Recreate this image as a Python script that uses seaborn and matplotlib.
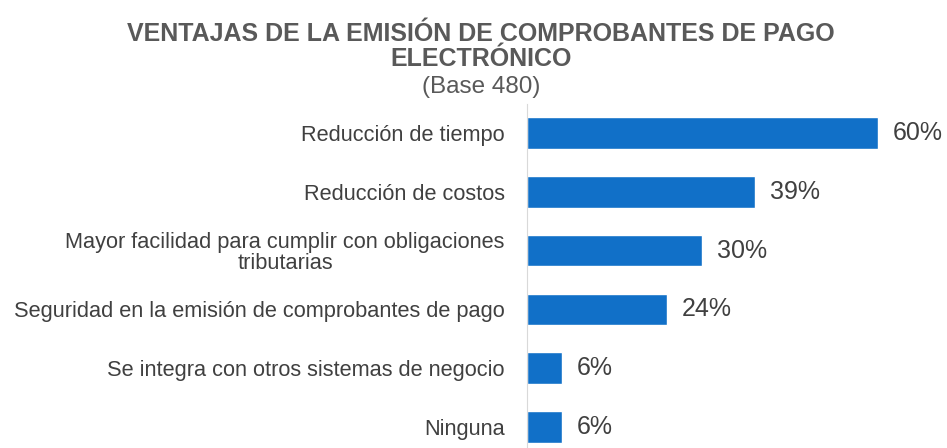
import matplotlib
matplotlib.use("Agg")
import matplotlib.pyplot as plt
import seaborn as sns
import pandas as pd

# Data
categorias = [
    "Reducción de tiempo",
    "Reducción de costos",
    "Mayor facilidad para cumplir con obligaciones\ntributarias",
    "Seguridad en la emisión de comprobantes de pago",
    "Se integra con otros sistemas de negocio",
    "Ninguna",
]
porcentajes = [60, 39, 30, 24, 6, 6]

df = pd.DataFrame({"categoria": categorias, "pct": porcentajes})

sns.set_style("white")
plt.rcParams["font.family"] = ["Liberation Sans", "DejaVu Sans"]

fig = plt.figure(figsize=(9.47, 4.48), dpi=100)
ax = fig.add_axes([0.5565, 0.0, 0.432, 0.7688])

sns.barplot(data=df, x="pct", y="categoria", color="#1170C8",
            width=0.54, saturation=1, ax=ax)

ax.set_xlim(0, 70)
ax.set_ylim(5.357, -0.5)
ax.set_xlabel("")
ax.set_ylabel("")
ax.set_xticks([])

for i, v in enumerate(porcentajes):
    ax.text(v + 2.5, i, f"{v}%", va="center", ha="left",
            fontsize=18, color="#404040")

ax.tick_params(axis="y", length=0, pad=16, labelsize=15.7, labelcolor="#404040")
for lbl in ax.get_yticklabels():
    lbl.set_multialignment("center")
    lbl.set_linespacing(1.0)

for s in ["top", "right", "bottom"]:
    ax.spines[s].set_visible(False)
ax.spines["left"].set_color("#D9D9D9")
ax.spines["left"].set_linewidth(0.8)

cx = 0.508
fig.text(cx, 0.924, "VENTAJAS DE LA EMISIÓN DE COMPROBANTES DE PAGO",
         ha="center", va="center", fontsize=18, fontweight="bold", color="#595959")
fig.text(cx, 0.868, "ELECTRÓNICO",
         ha="center", va="center", fontsize=18, fontweight="bold", color="#595959")
fig.text(cx, 0.806, "(Base 480)",
         ha="center", va="center", fontsize=17.5, color="#595959")

fig.savefig("out.png", dpi=100)
